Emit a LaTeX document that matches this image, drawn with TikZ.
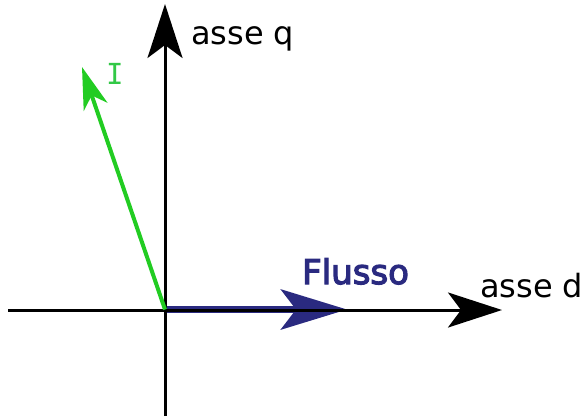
\documentclass[tikz,border=0pt]{standalone}
\usepackage{fontspec}
\setmainfont{DejaVu Sans}
\newfontfamily\monofnt{DejaVu Sans Mono}
\usetikzlibrary{arrows.meta}
\definecolor{axgreen}{RGB}{34,204,34}
\definecolor{lblgreen}{RGB}{50,200,70}
\definecolor{fluxblue}{RGB}{42,42,128}
\newcommand{\outlinedtext}[1]{\special{pdf:code 2 Tr 1.2 w}#1\special{pdf:code 0 Tr}}
\tikzset{
  axis/.style={line width=3pt, black, -{Stealth[length=54pt, width=35pt, inset=13pt]}},
  curr/.style={line width=4pt, axgreen, -{Stealth[length=42pt, width=25pt, inset=12pt]}},
  flux/.style={line width=7pt, fluxblue, -{Stealth[length=66pt, width=40pt, inset=15pt]}},
  lbl/.style={inner sep=0pt, anchor=base west, font=\fontsize{32}{36}\selectfont}
}
\begin{document}
\begin{tikzpicture}[x=1pt, y=-1pt]
\useasboundingbox (0,0) rectangle (585,416);
\coordinate (O) at (165,309.5);
\coordinate (dstart) at (8,310);
\coordinate (dtip) at (502,310);
\coordinate (qstart) at (165,416);
\coordinate (qtip) at (165,4);
\coordinate (Itip) at (82,67);
\coordinate (Ftip) at (347,309.5);
\draw[flux] (O) -- (Ftip);
\draw[axis] (dstart) -- (dtip);
\draw[axis] (qstart) -- (qtip);
\draw[curr] (O) -- (Itip);
\node[lbl] (lq) at (191,44) {asse q};
\node[lbl] (ld) at (480,297) {asse d};
\node[lbl, font=\fontsize{34}{38}\selectfont, text=fluxblue] (lf) at (302,284) {\outlinedtext{Flusso}};
\node[inner sep=0pt, anchor=base west, font=\monofnt\fontsize{29}{32}\selectfont, text=lblgreen] (li) at (106,84) {I};
\end{tikzpicture}
\end{document}
